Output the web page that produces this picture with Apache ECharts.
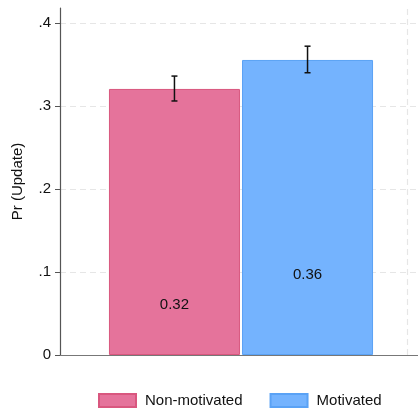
<!DOCTYPE html>
<html><head><meta charset="utf-8">
<script src="https://cdn.jsdelivr.net/npm/echarts@6/dist/echarts.min.js"></script>
<style>html,body{margin:0;padding:0;background:#fff}#c{width:418px;height:410px}</style>
</head><body><div id="c"></div>
<script>
var categories = ['Non-motivated', 'Motivated'];
var xPositions = [1, 2];
var means = [0.3205, 0.3554];
var ciLow = [0.306, 0.340];
var ciHigh = [0.336, 0.372];
var yTicks = [0, 0.1, 0.2, 0.3, 0.4];
var yTickLabels = ['0', '.1', '.2', '.3', '.4'];

var fills = ['#e5739b', '#74b3fe'];
var borders = ['#d9577f', '#5aa2f5'];
var labelDist = [43, 73];
var FONT = 'Liberation Sans, Arial, sans-serif';

var chart = echarts.init(document.getElementById('c'));
var series = categories.map(function (name, i) {
  return {
    name: name, type: 'bar', barWidth: 131, barGap: '-100%',
    itemStyle: { color: fills[i], borderColor: borders[i], borderWidth: 1 },
    label: { show: true, position: 'insideBottom', distance: labelDist[i],
      color: '#111', fontSize: 15, fontFamily: FONT,
      formatter: function (p) { return p.value[1].toFixed(2); } },
    data: [[xPositions[i], means[i]]],
    z: 2
  };
});
series[0].markLine = {
  silent: true, symbol: 'none', label: { show: false },
  lineStyle: { color: '#e6e6e6', type: [6, 4], width: 1.2 },
  data: [{ xAxis: 2.75 }]
};
series.push({
  type: 'custom', name: 'ci', z: 5,
  renderItem: function (params, api) {
    var x = api.value(0), lo = api.value(1), hi = api.value(2);
    var pLo = api.coord([x, lo]), pHi = api.coord([x, hi]);
    var cap = 3;
    var st = { stroke: '#111', lineWidth: 1.5 };
    return { type: 'group', children: [
      { type: 'line', shape: { x1: pLo[0], y1: pLo[1], x2: pHi[0], y2: pHi[1] }, style: st },
      { type: 'line', shape: { x1: pLo[0] - cap, y1: pLo[1], x2: pLo[0] + cap, y2: pLo[1] }, style: st },
      { type: 'line', shape: { x1: pHi[0] - cap, y1: pHi[1], x2: pHi[0] + cap, y2: pHi[1] }, style: st }
    ]};
  },
  data: xPositions.map(function (x, i) { return [x, ciLow[i], ciHigh[i]]; })
});

chart.setOption({
  animation: false,
  grid: { left: 60, right: 0, top: 8, bottom: 55, containLabel: false, outerBoundsMode: 'none' },
  legend: {
    data: categories, top: 388, left: 93, itemWidth: 37, itemHeight: 13, itemGap: 27,
    icon: 'rect',
    textStyle: { fontSize: 15, color: '#111', fontFamily: FONT, padding: [0, 0, 0, 4] }
  },
  xAxis: {
    type: 'value', min: 0.14, max: 2.83,
    axisLine: { show: true, lineStyle: { color: '#777', width: 1.2 } },
    axisTick: { show: false }, axisLabel: { show: false }, splitLine: { show: false }
  },
  yAxis: {
    type: 'value', min: 0, max: 0.418,
    name: 'Pr (Update)', nameLocation: 'middle', nameGap: 35,
    nameTextStyle: { fontSize: 15, color: '#111', fontFamily: FONT },
    axisLine: { show: true, lineStyle: { color: '#555', width: 1.2 } },
    axisTick: { show: true, length: 5, customValues: yTicks, lineStyle: { color: '#555' } },
    axisLabel: { customValues: yTicks, fontSize: 15, color: '#111', margin: 9, fontFamily: FONT,
      formatter: function (v) { var i = yTicks.findIndex(function (t) { return Math.abs(t - v) < 1e-6; }); return i >= 0 ? yTickLabels[i] : ''; } },
    splitLine: { show: true, lineStyle: { color: '#e6e6e6', type: [6, 4], width: 1.2 } }
  },
  series: series
});
</script></body></html>
